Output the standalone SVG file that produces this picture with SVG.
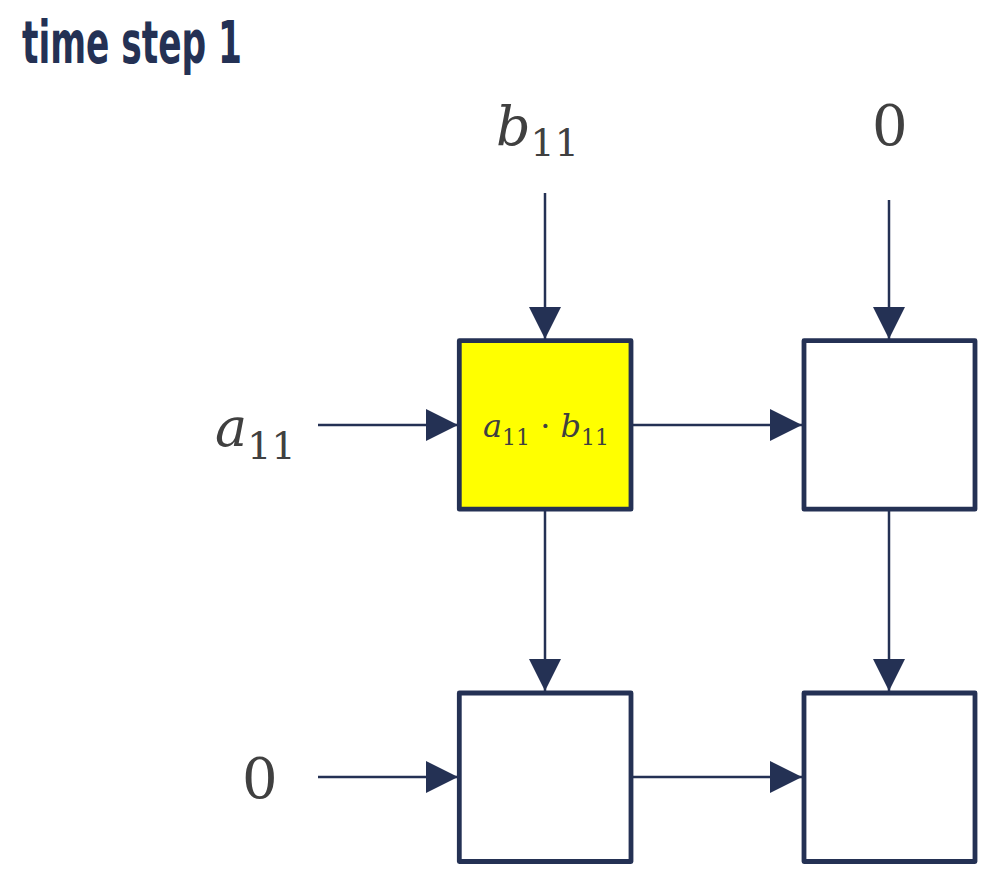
<svg xmlns="http://www.w3.org/2000/svg" width="996" height="883" viewBox="0 0 996 883">
<style>
.cell{stroke:#243154;stroke-width:4.8;stroke-linejoin:round}
.conn line{stroke:#243154;stroke-width:2.5}
.m{font-family:"DejaVu Serif","Liberation Serif",serif;fill:#404040}
.it{font-style:italic}
.title{font-family:"DejaVu Sans Condensed","DejaVu Sans",sans-serif;font-weight:bold;fill:#243154}
</style>
<defs>
<marker id="ah" markerUnits="userSpaceOnUse" markerWidth="32" markerHeight="32" refX="32" refY="16" orient="auto">
<path d="M0,0 L32,16 L0,32 Z" fill="#243154"/>
</marker>
</defs>
<text class="title" x="22" y="63" font-size="58" textLength="220" lengthAdjust="spacingAndGlyphs">time step 1</text>
<g id="labels">
<text class="m" x="496" y="145"><tspan class="it" font-size="54">b</tspan><tspan font-size="38" dy="11">11</tspan></text>
<text class="m" x="872" y="145" font-size="56">0</text>
<text class="m" x="215" y="446"><tspan class="it" font-size="54">a</tspan><tspan font-size="38" dy="13">11</tspan></text>
<text class="m" x="242" y="798" font-size="56">0</text>
</g>
<g id="cell11"><rect class="cell" x="459.3" y="340.7" width="171.7" height="168.5" fill="#ffff00"/>
<text class="m" x="483" y="437"><tspan class="it" font-size="32">a</tspan><tspan font-size="22" dy="8">11</tspan><tspan font-size="32" dy="-8"> · </tspan><tspan class="it" font-size="32">b</tspan><tspan font-size="22" dy="8">11</tspan></text>
</g>
<g id="cell12"><rect class="cell" x="804" y="340.7" width="171" height="168.5" fill="#ffffff"/></g>
<g id="cell21"><rect class="cell" x="459.3" y="693" width="171.7" height="168.5" fill="#ffffff"/></g>
<g id="cell22"><rect class="cell" x="804" y="693" width="171" height="168.5" fill="#ffffff"/></g>
<g id="connectors" class="conn">
<line x1="545" y1="193" x2="545" y2="339" marker-end="url(#ah)"/>
<line x1="889" y1="200" x2="889" y2="339" marker-end="url(#ah)"/>
<line x1="318" y1="425" x2="458" y2="425" marker-end="url(#ah)"/>
<line x1="633" y1="425" x2="802" y2="425" marker-end="url(#ah)"/>
<line x1="545" y1="511" x2="545" y2="691" marker-end="url(#ah)"/>
<line x1="889" y1="511" x2="889" y2="691" marker-end="url(#ah)"/>
<line x1="318" y1="777" x2="458" y2="777" marker-end="url(#ah)"/>
<line x1="633" y1="777" x2="802" y2="777" marker-end="url(#ah)"/>
</g>
</svg>
